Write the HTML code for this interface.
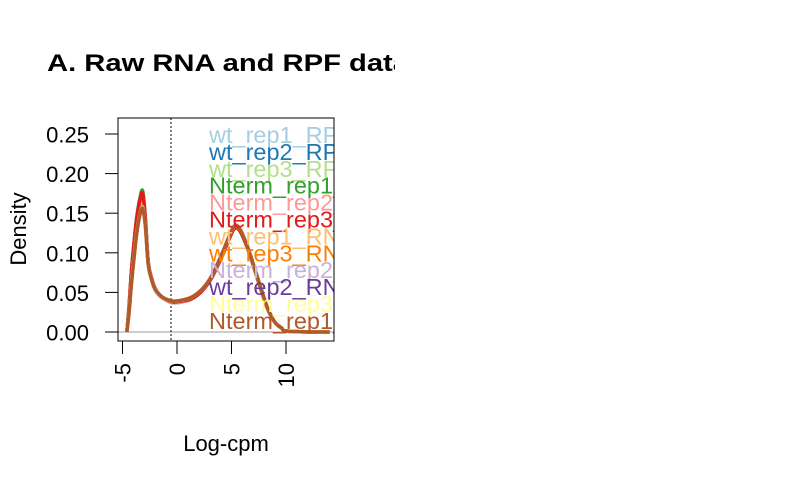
<!DOCTYPE html>
<html><head><meta charset="utf-8"><style>
body{margin:0;background:#fff;}
svg{display:block;font-family:"Liberation Sans",Arial,sans-serif;}
</style></head><body>
<svg id="chart" width="790" height="488" viewBox="0 0 790 488">
<defs><clipPath id="plotclip"><rect x="118" y="118" width="216" height="223"/></clipPath>
<clipPath id="titleclip"><rect x="0" y="0" width="395" height="488"/></clipPath></defs>
<rect width="790" height="488" fill="#fff"/>
<g clip-path="url(#titleclip)"><text x="47" y="71" font-size="24" font-weight="bold" textLength="362" lengthAdjust="spacingAndGlyphs">A. Raw RNA and RPF data</text></g>
<text transform="translate(26,229) rotate(-90)" text-anchor="middle" font-size="22">Density</text>
<text x="226" y="451" text-anchor="middle" font-size="22">Log-cpm</text>
<g id="axes"></g>
<g id="plot" clip-path="url(#plotclip)"></g>
<rect x="118" y="118" width="216" height="223" fill="none" stroke="#000" stroke-width="1"/>
</svg>
<script>
const xTicks = [-5, 0, 5, 10];
const yTicks = [0, 0.05, 0.10, 0.15, 0.20, 0.25];
const yTickLabels = ["0.00","0.05","0.10","0.15","0.20","0.25"];
const xGrid = [-4.6,-4.4,-4.16,-3.9,-3.7,-3.4,-3.15,-2.9,-2.63,-2.3,-2.0,-1.6,-1.1,-0.4,0.4,1.35,2.3,3.2,4.2,4.8,5.3,5.8,6.5,7.15,7.8,8.35,9.0,9.6,10.2,14];
const seriesNames = ["wt_rep1_RPF","wt_rep2_RPF","wt_rep3_RPF","Nterm_rep1_RPF","Nterm_rep2_RPF","Nterm_rep3_RPF","wt_rep1_RNA","wt_rep3_RNA","Nterm_rep2_RNA","wt_rep2_RNA","Nterm_rep3_RNA","Nterm_rep1_RNA"];
const seriesColors = ["#A6CEE3","#1F78B4","#B2DF8A","#33A02C","#FB9A99","#E31A1C","#FDBF6F","#FF7F00","#CAB2D6","#6A3D9A","#FFFF99","#B15928"];
const s1 = [0,0.030,0.078,0.115,0.140,0.163,0.172,0.140,0.086,0.065,0.053,0.046,0.041,0.037,0.038,0.042,0.052,0.069,0.099,0.119,0.132,0.128,0.105,0.078,0.050,0.028,0.012,0.005,0.001,0];
const s2 = [0,0.030,0.079,0.116,0.141,0.165,0.174,0.141,0.086,0.065,0.053,0.046,0.041,0.037,0.038,0.042,0.052,0.070,0.100,0.120,0.133,0.129,0.106,0.078,0.050,0.028,0.012,0.005,0.001,0];
const s3 = [0,0.029,0.077,0.114,0.139,0.162,0.171,0.139,0.086,0.065,0.054,0.047,0.042,0.038,0.039,0.043,0.053,0.070,0.099,0.119,0.132,0.128,0.105,0.078,0.050,0.028,0.012,0.005,0.001,0];
const s4 = [0,0.032,0.081,0.119,0.145,0.169,0.178,0.143,0.087,0.065,0.053,0.046,0.041,0.037,0.038,0.042,0.052,0.069,0.098,0.118,0.131,0.127,0.104,0.077,0.049,0.028,0.012,0.005,0.001,0];
const s5 = [0,0.030,0.079,0.116,0.141,0.164,0.173,0.141,0.086,0.065,0.053,0.046,0.041,0.037,0.038,0.042,0.052,0.069,0.099,0.119,0.132,0.128,0.105,0.078,0.050,0.028,0.012,0.005,0.001,0];
const s6 = [0,0.031,0.080,0.118,0.143,0.166,0.175,0.143,0.088,0.067,0.055,0.047,0.042,0.038,0.039,0.042,0.052,0.069,0.098,0.118,0.131,0.127,0.105,0.078,0.050,0.028,0.012,0.005,0.001,0];
const s7 = [0,0.025,0.066,0.101,0.126,0.149,0.157,0.134,0.085,0.065,0.054,0.047,0.042,0.039,0.040,0.044,0.054,0.071,0.101,0.121,0.134,0.130,0.106,0.079,0.051,0.029,0.012,0.005,0.001,0];
const s8 = [0,0.025,0.066,0.101,0.126,0.150,0.158,0.135,0.085,0.065,0.054,0.047,0.042,0.039,0.040,0.044,0.054,0.071,0.101,0.121,0.134,0.129,0.106,0.079,0.051,0.029,0.012,0.005,0.001,0];
const s9 = [0,0.024,0.065,0.100,0.125,0.148,0.156,0.134,0.085,0.065,0.054,0.047,0.042,0.039,0.040,0.044,0.054,0.072,0.102,0.122,0.135,0.130,0.107,0.079,0.051,0.029,0.012,0.005,0.001,0];
const s10 = [0,0.025,0.066,0.101,0.126,0.149,0.157,0.135,0.085,0.065,0.054,0.047,0.042,0.039,0.040,0.044,0.054,0.071,0.101,0.121,0.134,0.130,0.106,0.079,0.051,0.029,0.012,0.005,0.001,0];
const s11 = [0,0.024,0.065,0.100,0.125,0.148,0.157,0.134,0.085,0.065,0.054,0.047,0.042,0.039,0.040,0.044,0.054,0.071,0.101,0.121,0.134,0.130,0.106,0.079,0.051,0.029,0.012,0.005,0.001,0];
const s12 = [0,0.024,0.064,0.099,0.124,0.148,0.156,0.134,0.085,0.065,0.054,0.047,0.042,0.039,0.040,0.044,0.054,0.071,0.101,0.121,0.134,0.129,0.106,0.079,0.051,0.029,0.012,0.005,0.001,0];
const seriesValues = [s1,s2,s3,s4,s5,s6,s7,s8,s9,s10,s11,s12];
const cutoff = -0.55;

const NS = "http://www.w3.org/2000/svg";
function xs(v){ return 177 + (v - 0) * 10.9; }
function ys(v){ return 332 - v * 792; }
function mk(tag, attrs, parent){ const e = document.createElementNS(NS, tag); for (const k in attrs) e.setAttribute(k, attrs[k]); parent.appendChild(e); return e; }
function smoothPath(pts){
  let d = 'M' + pts[0][0].toFixed(1) + ',' + pts[0][1].toFixed(1);
  for (let i = 0; i < pts.length - 1; i++) {
    const p0 = pts[Math.max(0, i - 1)], p1 = pts[i], p2 = pts[i + 1], p3 = pts[Math.min(pts.length - 1, i + 2)];
    const c1x = p1[0] + (p2[0] - p0[0]) / 6, c1y = p1[1] + (p2[1] - p0[1]) / 6;
    const c2x = p2[0] - (p3[0] - p1[0]) / 6, c2y = p2[1] - (p3[1] - p1[1]) / 6;
    d += ' C' + c1x.toFixed(1) + ',' + c1y.toFixed(1) + ' ' + c2x.toFixed(1) + ',' + c2y.toFixed(1) + ' ' + p2[0].toFixed(1) + ',' + p2[1].toFixed(1);
  }
  return d;
}
const axes = document.getElementById('axes');
const plot = document.getElementById('plot');

xTicks.forEach((t) => {
  const l = mk('line', {x1: xs(t), x2: xs(t), y1: 341, y2: 354, stroke: '#000'}, axes);
  
  
  const tx = mk('text', {transform: 'translate(' + (xs(t) + 8) + ',363) rotate(-90)', 'text-anchor': 'end', 'font-size': '22'}, axes);
  tx.textContent = String(t);
  
  
});
yTicks.forEach((t, i) => {
  const l = mk('line', {x1: 105, x2: 118, y1: ys(t), y2: ys(t), stroke: '#000'}, axes);
  
  
  const tx = mk('text', {x: 89, y: ys(t) + 8.5, 'text-anchor': 'end', 'font-size': '22'}, axes);
  tx.textContent = yTickLabels[i];
  
  
});

const zero = mk('line', {x1: 118, x2: 334, y1: ys(0), y2: ys(0), stroke: '#bebebe', 'stroke-width': 1.5}, plot);


const cut = mk('line', {x1: xs(cutoff), x2: xs(cutoff), y1: 118, y2: 341, stroke: '#000', 'stroke-dasharray': '2,2'}, plot);



seriesValues.forEach((vals, i) => {
  const pts = vals.map((v, j) => [xs(xGrid[j]), ys(v)]);
  const p = mk('path', {d: smoothPath(pts), fill: 'none', stroke: seriesColors[i], 'stroke-width': 3.5, 'stroke-linejoin': 'round'}, plot);
  
  
});

seriesNames.forEach((n, i) => {
  const y = 143 + i * 16.9;
  const t = mk('text', {x: 209, y: y, 'font-size': '23.5', fill: seriesColors[i]}, plot);
  t.textContent = n;
  
  
});
</script>
</body></html>
